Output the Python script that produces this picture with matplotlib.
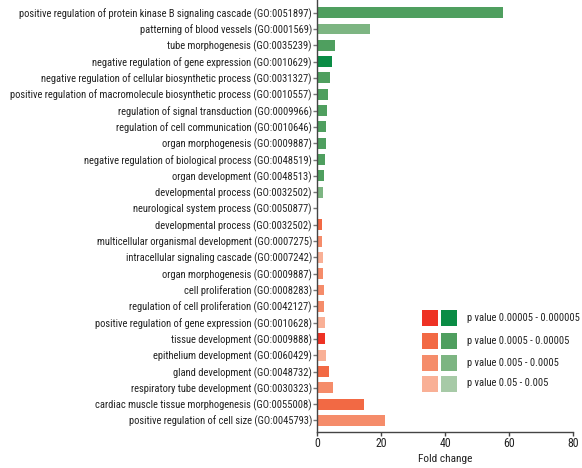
import matplotlib
matplotlib.use("Agg")
import matplotlib.pyplot as plt
from matplotlib import font_manager
from matplotlib.patches import Rectangle

# GO terms, top to bottom
terms = [
    "positive regulation of protein kinase B signaling cascade (GO:0051897)",
    "patterning of blood vessels (GO:0001569)",
    "tube morphogenesis (GO:0035239)",
    "negative regulation of gene expression (GO:0010629)",
    "negative regulation of cellular biosynthetic process (GO:0031327)",
    "positive regulation of macromolecule biosynthetic process (GO:0010557)",
    "regulation of signal transduction (GO:0009966)",
    "regulation of cell communication (GO:0010646)",
    "organ morphogenesis (GO:0009887)",
    "negative regulation of biological process (GO:0048519)",
    "organ development (GO:0048513)",
    "developmental process (GO:0032502)",
    "neurological system process (GO:0050877)",
    "developmental process (GO:0032502)",
    "multicellular organismal development (GO:0007275)",
    "intracellular signaling cascade (GO:0007242)",
    "organ morphogenesis (GO:0009887)",
    "cell proliferation (GO:0008283)",
    "regulation of cell proliferation (GO:0042127)",
    "positive regulation of gene expression (GO:0010628)",
    "tissue development (GO:0009888)",
    "epithelium development (GO:0060429)",
    "gland development (GO:0048732)",
    "respiratory tube development (GO:0030323)",
    "cardiac muscle tissue morphogenesis (GO:0055008)",
    "positive regulation of cell size (GO:0045793)",
]
fold_change = [58.0, 16.4, 5.5, 4.5, 3.9, 3.3, 3.0, 2.7, 2.7, 2.3, 2.0, 1.7, 0.0,
               1.4, 1.4, 1.7, 1.7, 2.0, 2.0, 2.3, 2.3, 2.7, 3.6, 4.9, 14.6, 21.1]
# direction: "up" (green) or "down" (red)
direction = ["up"] * 13 + ["down"] * 13
# p-value class, 0 = most significant
p_class = [1, 2, 1, 0, 1, 1, 1, 1, 1, 1, 1, 2, 2,
           1, 2, 3, 2, 2, 2, 3, 0, 3, 1, 2, 1, 2]

p_labels = ["p value 0.00005 - 0.000005", "p value 0.0005 - 0.00005",
            "p value 0.005 - 0.0005", "p value 0.05 - 0.005"]
greens = ["#0a8c45", "#4f9f5f", "#7db582", "#a7caa7"]
reds = ["#ee3224", "#f26944", "#f58c6a", "#f9b096"]

installed = {f.name for f in font_manager.fontManager.ttflist}
if "Roboto Condensed" in installed:
    plt.rcParams["font.family"] = ["Roboto Condensed", "DejaVu Sans"]
    fs = 7.6
else:
    plt.rcParams["font.family"] = ["Liberation Sans", "DejaVu Sans"]
    fs = 6.5
plt.rcParams["font.size"] = fs

fig = plt.figure(figsize=(5.82, 4.68), dpi=100)
ax = fig.add_axes([317.5 / 582, 1 - 431.7 / 468, (573.3 - 317.5) / 582, 431.7 / 468])

colors = [(greens if d == "up" else reds)[c] for d, c in zip(direction, p_class)]
pos = list(range(len(terms)))
ax.barh(pos, fold_change, height=0.67, color=colors)

ax.set_xlim(0, 80)
ax.set_ylim(len(terms) - 1 + 0.69, -0.78)
ax.set_xticks([0, 20, 40, 60, 80])
ax.set_yticks(pos)
ax.set_yticklabels(terms)
ax.set_xlabel("Fold change", fontsize=fs + 0.6, color="#222222", labelpad=3)

for side in ("top", "right"):
    ax.spines[side].set_visible(False)
for side in ("left", "bottom"):
    ax.spines[side].set_color("#444444")
    ax.spines[side].set_linewidth(1.0)
ax.tick_params(axis="y", length=3, width=1, color="#777777", pad=1, labelcolor="#222222")
ax.tick_params(axis="x", length=3, width=1, color="#444444", pad=1, labelsize=fs + 1,
               labelcolor="#222222")

# p-value key: red and green swatch per class
row_tops = [310, 332.7, 355, 375.5]
for i, top in enumerate(row_tops):
    for x0, palette in ((421.7, reds), (441, greens)):
        fig.patches.append(Rectangle((x0 / 582, 1 - (top + 16) / 468), 16 / 582, 16 / 468,
                                     transform=fig.transFigure, color=palette[i], lw=0))
    fig.text(466.7 / 582, 1 - (top + 8) / 468, p_labels[i], ha="left", va="center",
             fontsize=fs, color="#222222")

fig.savefig("out.png", dpi=100)
